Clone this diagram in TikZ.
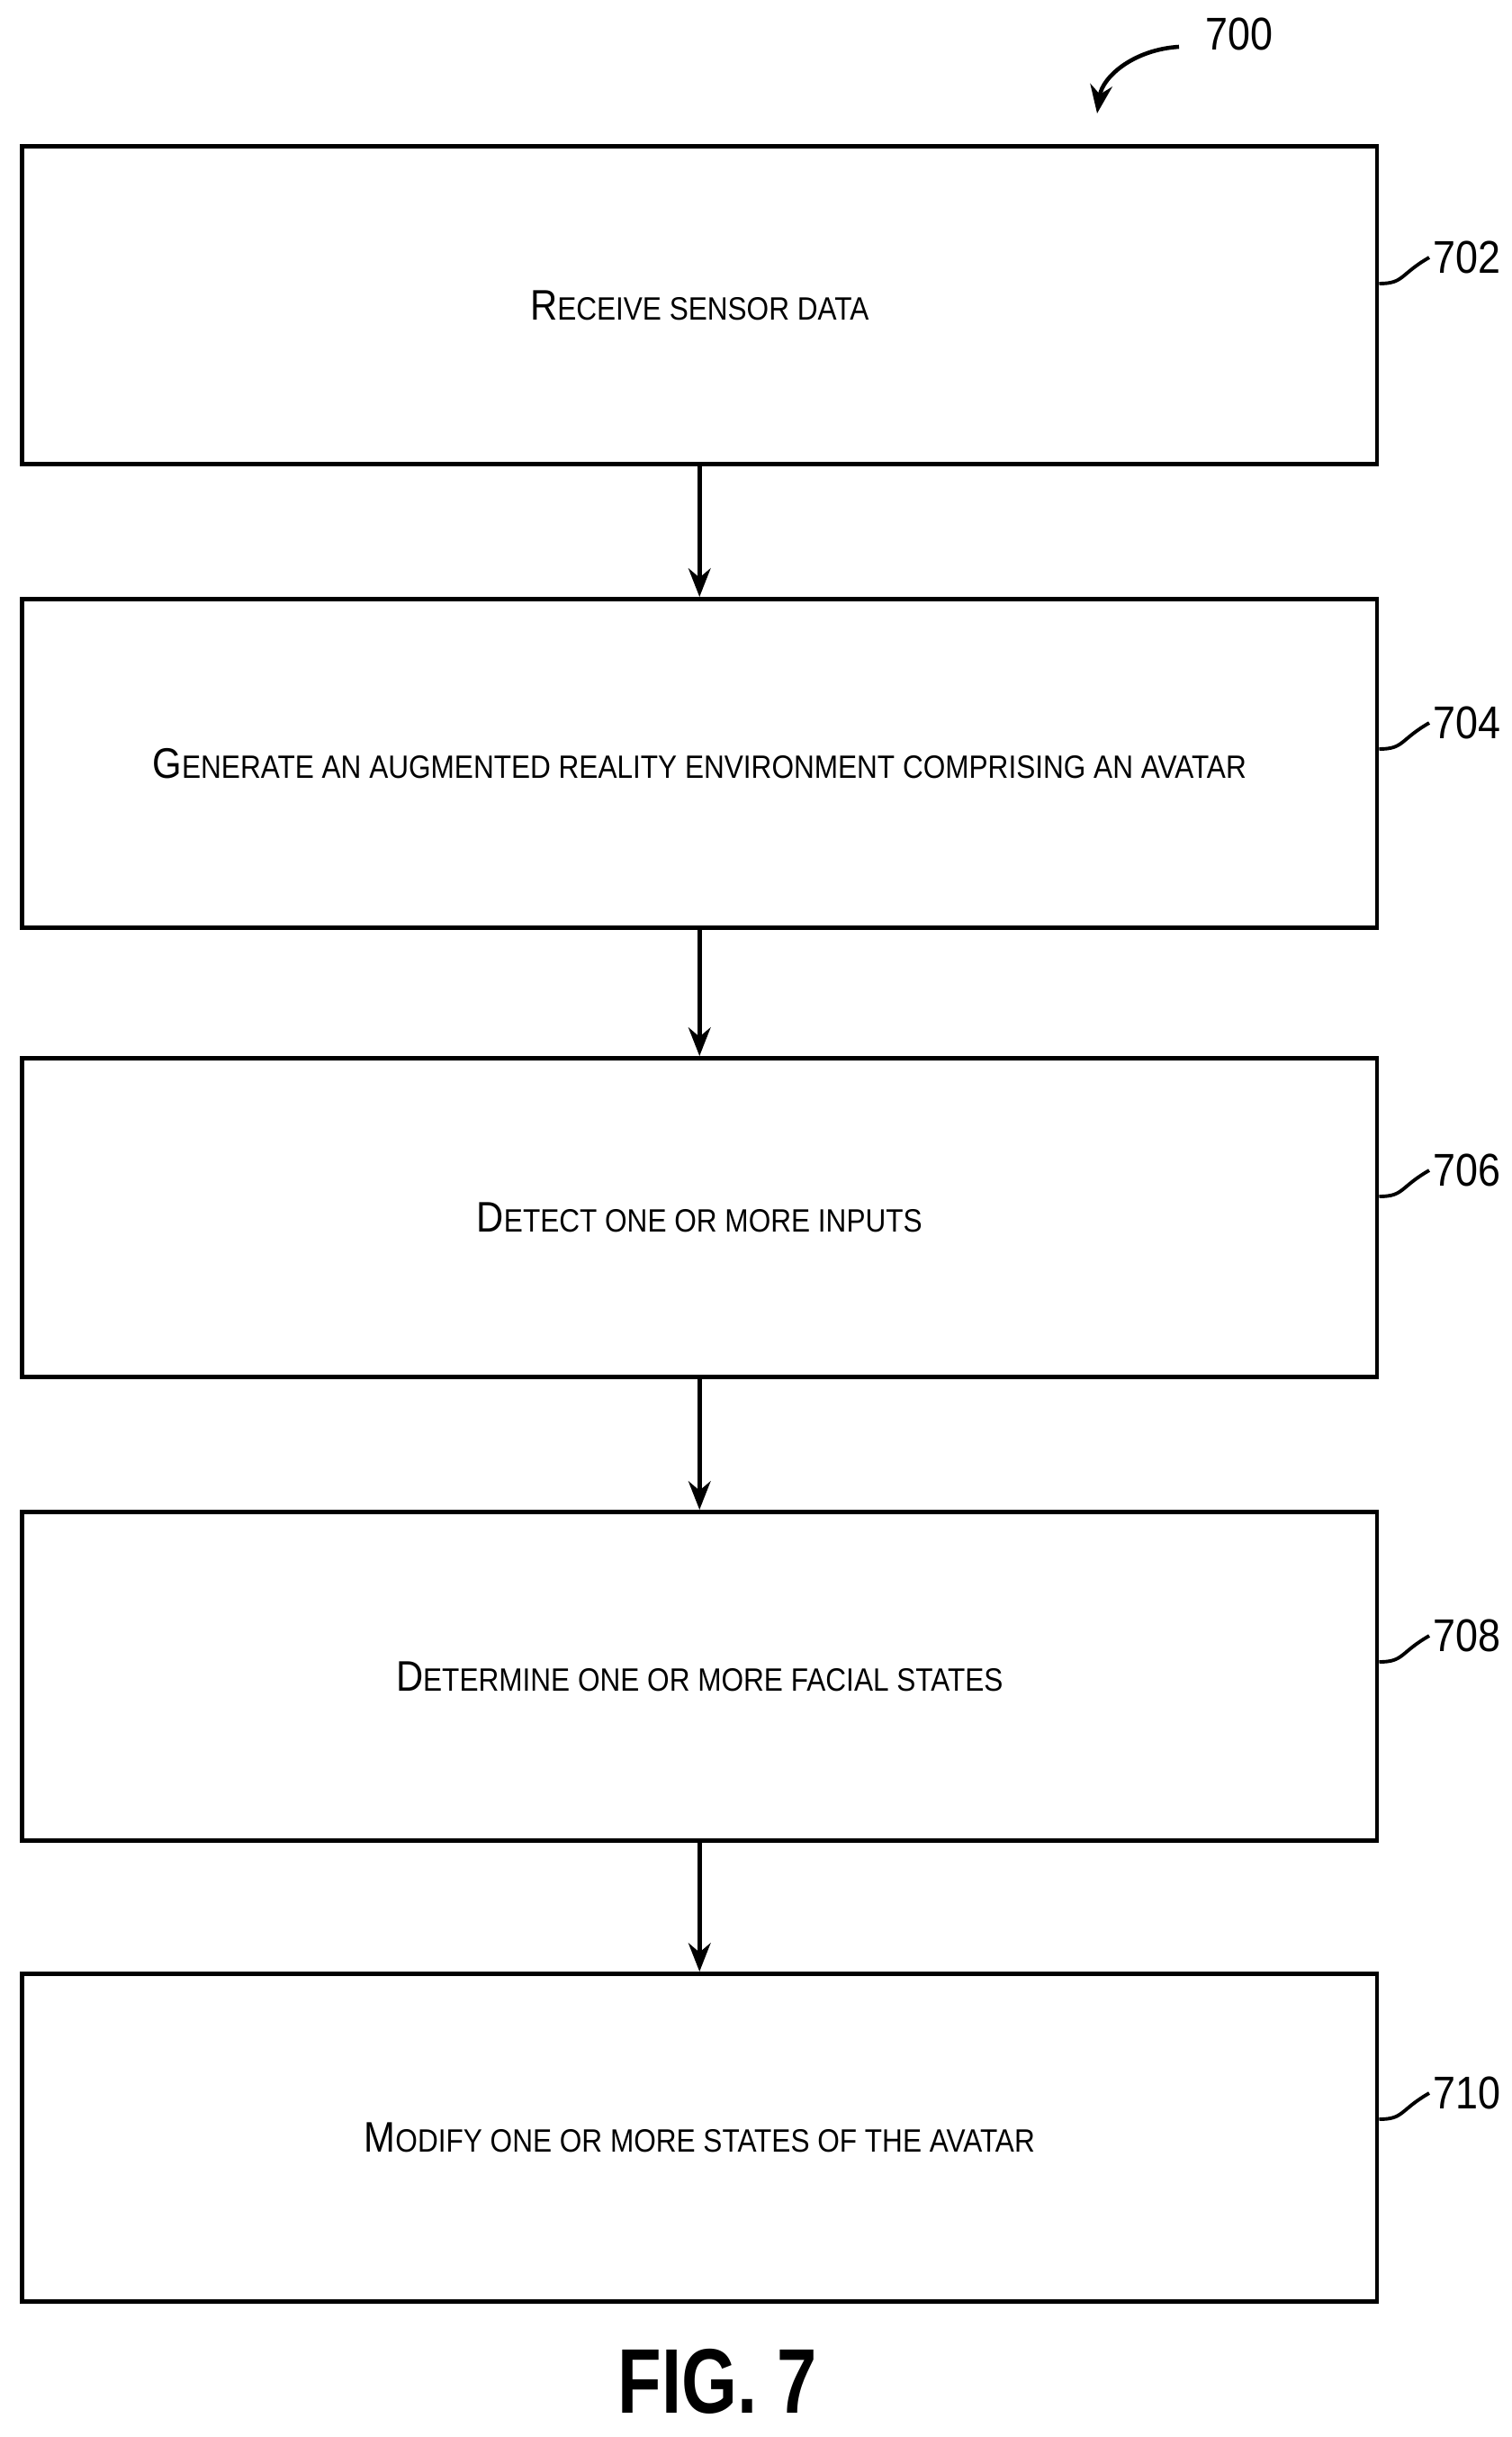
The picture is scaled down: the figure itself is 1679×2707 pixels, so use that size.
\documentclass[tikz,border=0pt]{standalone}
\usepackage{fontspec}
\setmainfont[FakeStretch=0.88]{Liberation Sans}
\newfontfamily\figfont[FakeStretch=0.78]{Liberation Sans}
\usetikzlibrary{arrows.meta}
\newcommand{\smc}[2]{{\fontsize{13.5}{16}\selectfont #1}{\fontsize{10.2}{13}\selectfont #2}}
\tikzset{
  flowbox/.style={draw, line width=1.3pt, minimum width=15.05cm, minimum height=3.6cm, anchor=north west, inner sep=0pt},
  flow/.style={-{Stealth[length=9pt,width=7pt]}, line width=1.3pt},
  lead/.style={line width=1.1pt},
  refnum/.style={font=\fontsize{14.5}{17}\selectfont, anchor=west, inner sep=1pt}
}
\begin{document}
\begin{tikzpicture}[x=0.01cm, y=-0.01cm]
      \useasboundingbox (0,0) rectangle (1679,2707);
      \node[flowbox, minimum height=3.53cm] (s702) at (22, 160) {\smc{R}{ECEIVE SENSOR DATA}};
      \node[flowbox, minimum height=3.65cm] (s704) at (22, 663) {\smc{G}{ENERATE AN AUGMENTED REALITY ENVIRONMENT COMPRISING AN AVATAR}};
      \node[flowbox, minimum height=3.54cm] (s706) at (22, 1173) {\smc{D}{ETECT ONE OR MORE INPUTS}};
      \node[flowbox, minimum height=3.65cm] (s708) at (22, 1677) {\smc{D}{ETERMINE ONE OR MORE FACIAL STATES}};
      \node[flowbox, minimum height=3.64cm] (s710) at (22, 2190) {\smc{M}{ODIFY ONE OR MORE STATES OF THE AVATAR}};
      \draw[flow] (s702) -- (s704);
      \draw[flow] (s704) -- (s706);
      \draw[flow] (s706) -- (s708);
      \draw[flow] (s708) -- (s710);
      % reference numerals
      \node[refnum] (n702) at (1588, 286) {702};
      \node[refnum] (n704) at (1588, 803) {704};
      \node[refnum] (n706) at (1588, 1300) {706};
      \node[refnum] (n708) at (1588, 1817) {708};
      \node[refnum] (n710) at (1588, 2325) {710};
      \draw[lead] (s702.east |- 0,315) .. controls (1560,315) and (1555,305) .. (n702.west);
      \draw[lead] (s704.east |- 0,832) .. controls (1560,832) and (1555,822) .. (n704.west);
      \draw[lead] (s706.east |- 0,1329) .. controls (1560,1329) and (1555,1319) .. (n706.west);
      \draw[lead] (s708.east |- 0,1846) .. controls (1560,1846) and (1555,1836) .. (n708.west);
      \draw[lead] (s710.east |- 0,2354) .. controls (1560,2354) and (1555,2344) .. (n710.west);
      \node[refnum] (n700) at (1335, 38) {700};
      \coordinate (tip700) at (1219, 126);
      \draw[flow] (1310,52) .. controls (1260,55) and (1225,85) .. (tip700);
      \node[font=\figfont\bfseries\fontsize{29}{34}\selectfont, inner sep=0pt] (fig) at (797, 2645) {FIG. 7};
\end{tikzpicture}
\end{document}
